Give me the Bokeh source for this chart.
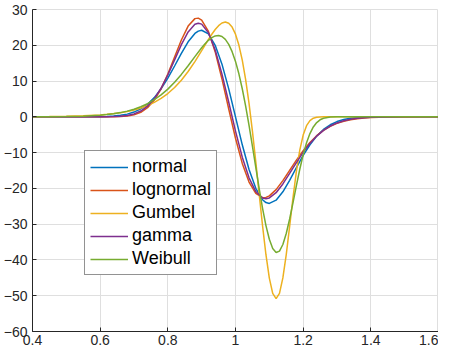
from bokeh.plotting import figure
from bokeh.models import Legend, LegendItem, FixedTicker, CustomJSTickFormatter, Range1d
from bokeh.embed import file_html
from bokeh.resources import INLINE

# ---- data ----
base_x = [0.40, 0.45, 0.50, 0.55, 0.60, 0.62, 0.64, 0.66, 0.68, 0.70, 0.72, 0.74, 0.76,
          0.78, 0.80, 0.82, 0.84, 0.86, 0.88, 0.89, 0.90, 0.92, 0.94, 0.96, 0.98, 1.00,
          1.02, 1.04, 1.06, 1.08, 1.09, 1.10, 1.12, 1.14, 1.16, 1.18, 1.20, 1.22, 1.24,
          1.26, 1.28, 1.30, 1.32, 1.34, 1.36, 1.38, 1.40, 1.45, 1.50, 1.55, 1.60]

normal_y = [0, 0, 0, 0.01, 0.05, 0.11, 0.22, 0.42, 0.76, 1.33, 2.22, 3.53, 5.37,
            7.80, 10.80, 14.21, 17.75, 20.96, 23.30, 23.96, 24.20, 23.18, 19.99, 14.73, 7.82, 0.00,
            -7.82, -14.73, -19.99, -23.18, -23.96, -24.20, -23.30, -20.96, -17.75, -14.21, -10.80, -7.80, -5.37,
            -3.53, -2.22, -1.33, -0.76, -0.42, -0.22, -0.11, -0.05, -0.01, 0, 0, 0]

lognormal_y = [0, 0, 0, 0, 0.00, 0.01, 0.02, 0.08, 0.22, 0.56, 1.26, 2.56, 4.70,
               7.84, 11.96, 16.72, 21.48, 25.36, 27.45, 27.59, 27.05, 23.87, 18.15, 10.59, 2.18, -5.99,
               -13.01, -18.24, -21.42, -22.60, -22.53, -22.09, -20.34, -17.82, -14.96, -12.09, -9.45, -7.16, -5.27,
               -3.79, -2.65, -1.82, -1.22, -0.80, -0.52, -0.33, -0.21, -0.06, -0.02, 0, 0]

gamma_y = [0, 0, 0, 0, 0.01, 0.02, 0.06, 0.16, 0.38, 0.82, 1.62, 2.98, 5.07,
           7.99, 11.69, 15.92, 20.17, 23.74, 25.87, 26.18, 25.91, 23.51, 18.70, 11.95, 4.07, -3.99,
           -11.27, -17.05, -20.89, -22.70, -22.89, -22.67, -21.20, -18.76, -15.82, -12.78, -9.92, -7.43, -5.38,
           -3.77, -2.57, -1.70, -1.09, -0.68, -0.42, -0.25, -0.15, -0.04, -0.01, 0, 0]

gumbel_x = [0.40, 0.45, 0.50, 0.55, 0.60, 0.62, 0.64, 0.66, 0.68, 0.70, 0.72, 0.74, 0.76,
            0.78, 0.80, 0.82, 0.84, 0.86, 0.88, 0.90, 0.91, 0.92, 0.93, 0.94, 0.95, 0.96,
            0.97, 0.98, 0.99, 1.00, 1.01, 1.02, 1.03, 1.04, 1.05, 1.06, 1.07, 1.08, 1.09,
            1.10, 1.11, 1.12, 1.13, 1.14, 1.15, 1.16, 1.17, 1.18, 1.19, 1.20, 1.21, 1.22,
            1.23, 1.24, 1.26, 1.28, 1.30, 1.40, 1.50, 1.60]
gumbel_y = [0.04, 0.08, 0.15, 0.29, 0.54, 0.70, 0.90, 1.16, 1.50, 1.92, 2.47, 3.16, 4.04,
            5.14, 6.51, 8.20, 10.24, 12.67, 15.45, 18.50, 20.08, 21.62, 23.09, 24.41, 25.49, 26.23,
            26.50, 26.18, 25.09, 23.10, 20.06, 15.85, 10.41, 3.76, -4.00, -12.58, -21.59, -30.47, -38.54,
            -45.06, -49.33, -50.83, -49.34, -45.03, -38.49, -30.64, -22.55, -15.23, -9.31, -5.11, -2.48, -1.05,
            -0.38, -0.11, -0.01, 0, 0, 0, 0, 0]

weibull_x = [0.40, 0.45, 0.50, 0.55, 0.60, 0.62, 0.64, 0.66, 0.68, 0.70, 0.72, 0.74, 0.76,
             0.78, 0.80, 0.82, 0.84, 0.86, 0.88, 0.90, 0.91, 0.92, 0.93, 0.94, 0.95, 0.96,
             0.97, 0.98, 0.99, 1.00, 1.01, 1.02, 1.03, 1.04, 1.05, 1.06, 1.07, 1.08, 1.09,
             1.10, 1.11, 1.12, 1.13, 1.14, 1.15, 1.16, 1.17, 1.18, 1.19, 1.20, 1.21, 1.22,
             1.23, 1.24, 1.25, 1.26, 1.28, 1.30, 1.35, 1.40, 1.50, 1.60]
weibull_y = [0.01, 0.02, 0.07, 0.19, 0.45, 0.63, 0.87, 1.18, 1.60, 2.14, 2.82, 3.70, 4.79,
             6.13, 7.75, 9.66, 11.86, 14.29, 16.84, 19.31, 20.42, 21.38, 22.13, 22.61, 22.74, 22.45,
             21.64, 20.26, 18.22, 15.49, 12.03, 7.85, 3.02, -2.38, -8.17, -14.15, -20.05, -25.58, -30.40,
             -34.23, -36.78, -37.90, -37.52, -35.68, -32.61, -28.56, -23.97, -19.21, -14.65, -10.61, -7.26, -4.68,
             -2.83, -1.60, -0.83, -0.40, -0.07, -0.01, 0, 0, 0, 0]

series_names = ["normal", "lognormal", "Gumbel", "gamma", "Weibull"]
series_colors = ["#0072BD", "#D95319", "#EDB120", "#7E2F8E", "#77AC30"]
x_ticks = [0.4, 0.6, 0.8, 1.0, 1.2, 1.4, 1.6]
y_ticks = [-60, -50, -40, -30, -20, -10, 0, 10, 20, 30]

# ---- figure ----
p = figure(width=438, height=347, output_backend="svg", toolbar_location=None,
           x_range=Range1d(0.4, 1.6), y_range=Range1d(-60, 30),
           min_border_left=26, min_border_right=0, min_border_top=9, min_border_bottom=0)
p.background_fill_color = "white"
p.border_fill_color = "white"
p.outline_line_color = "#dfdfdf"

for ax in (p.xaxis[0], p.yaxis[0]):
    ax.axis_line_color = "#262626"
    ax.axis_line_width = 1
    ax.major_tick_in = 4
    ax.major_tick_out = 0
    ax.major_tick_line_color = "#262626"
    ax.minor_tick_line_color = None
    ax.major_label_text_font = "Liberation Sans"
    ax.major_label_text_font_size = "14px"
    ax.major_label_text_color = "#262626"

p.xaxis.ticker = FixedTicker(ticks=x_ticks)
p.yaxis.ticker = FixedTicker(ticks=y_ticks)
p.xaxis.formatter = CustomJSTickFormatter(code="return (Math.round(tick*10)/10).toString();")
p.xaxis.major_label_standoff = 3
p.yaxis.major_label_standoff = 5

p.xgrid.grid_line_color = "#dfdfdf"
p.ygrid.grid_line_color = "#dfdfdf"

xs_list = [base_x, base_x, gumbel_x, base_x, weibull_x]
ys_list = [normal_y, lognormal_y, gumbel_y, gamma_y, weibull_y]

items = []
for name, color, xs, ys in zip(series_names, series_colors, xs_list, ys_list):
    r = p.line(xs, ys, line_color=color, line_width=1.5)
    items.append(LegendItem(label=name, renderers=[r]))

legend = Legend(items=items, location=(52, 56))
legend.glyph_width = 38
legend.glyph_height = 20
legend.label_height = 20
legend.spacing = 2
legend.padding = 5
legend.margin = 0
legend.label_standoff = 4
legend.label_text_font = "Liberation Sans"
legend.label_text_font_size = "18px"
legend.label_text_color = "#000000"
legend.border_line_color = "#262626"
legend.border_line_width = 1
legend.background_fill_color = "white"
legend.background_fill_alpha = 1.0
p.add_layout(legend)

open("out.html", "w").write(file_html(p, INLINE))
